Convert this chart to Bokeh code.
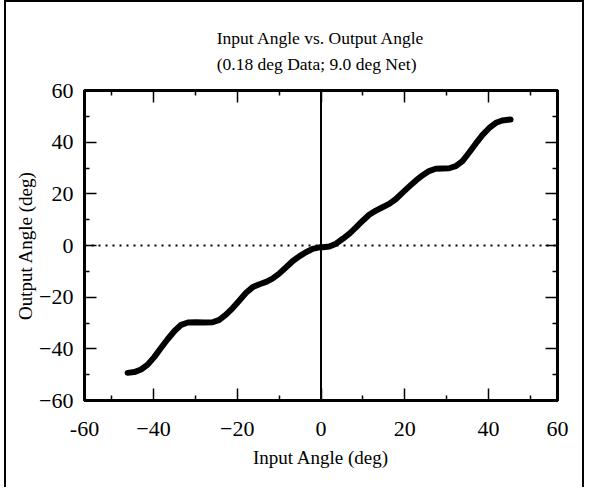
from bokeh.plotting import figure
from bokeh.models import Range1d, FixedTicker, LinearAxis, Span, Title
from bokeh.embed import file_html
from bokeh.resources import INLINE

# Data (input angle, output angle in degrees)
input_angle = [-46.2, -44.6, -43.0, -41.4, -39.8, -38.2, -36.6, -35.0, -33.4, -31.8,
               -29.9, -27.9, -25.9, -24.3, -22.7, -21.1, -19.5, -17.9, -16.3, -14.7,
               -13.1, -11.6, -10.0, -8.4, -6.8, -5.2, -3.6, -2.0, -0.4,
               0.4, 2.0, 3.6, 5.2, 6.8, 8.3, 9.9, 11.5, 13.1, 14.7, 16.3, 17.9,
               19.5, 21.1, 22.7, 24.3, 25.8, 27.4, 29.0, 30.6, 32.2, 33.8, 35.4,
               37.0, 38.6, 40.2, 41.8, 43.3, 45.3]
output_angle = [-49.3, -49.0, -48.0, -46.1, -43.1, -39.6, -36.2, -33.1, -30.7, -29.8,
                -29.7, -29.8, -29.7, -28.8, -26.8, -24.2, -21.3, -18.3, -16.1, -15.0,
                -14.1, -12.8, -10.9, -8.5, -6.1, -4.2, -2.6, -1.3, -0.7,
                -0.7, -0.4, 0.7, 2.6, 4.6, 6.9, 9.5, 11.9, 13.5, 14.8, 16.1, 18.0,
                20.5, 22.9, 25.2, 27.2, 28.8, 29.7, 29.8, 29.9, 30.7, 32.7, 36.0,
                39.5, 42.8, 45.5, 47.5, 48.4, 48.8]

x_ticks = [-56.5, -40, -20, 0, 20, 40, 56.5]
x_tick_labels = {-56.5: "-60", 56.5: "60"}
x_minor = [-50, -30, -10, 10, 30, 50]
y_ticks = [-60, -40, -20, 0, 20, 40, 60]
y_minor = [-50, -30, -10, 10, 30, 50]

title_1 = "Input Angle vs. Output Angle"
title_2 = "(0.18 deg Data; 9.0 deg Net)"
x_label = "Input Angle (deg)"
y_label = "Output Angle (deg)"

FONT = "Liberation Serif"

p = figure(width=584, height=487, x_range=Range1d(-56.5, 56.5), y_range=Range1d(-60, 60),
           output_backend="svg", toolbar_location=None,
           min_border_left=84, min_border_right=27, min_border_top=90, min_border_bottom=87)
p.styles = {"box-shadow": "inset 4px 0 0 0 white, inset 6px 0 0 0 black, "
                          "inset 0 2px 0 0 black, inset -2px 0 0 0 black"}
p.background_fill_color = "white"
p.border_fill_color = None
p.outline_line_color = "black"
p.outline_line_width = 3
p.xgrid.visible = False
p.ygrid.visible = False

xt = FixedTicker(ticks=x_ticks, minor_ticks=x_minor)
yt = FixedTicker(ticks=y_ticks, minor_ticks=y_minor)

def style_axis(ax, ticker, show_labels):
    ax.ticker = ticker
    ax.axis_line_color = "black"
    ax.axis_line_width = 3
    ax.major_tick_in = 12
    ax.major_tick_out = 0
    ax.minor_tick_in = 5
    ax.minor_tick_out = 0
    ax.major_tick_line_width = 1.5
    ax.minor_tick_line_width = 1.5
    ax.major_tick_line_color = "black"
    ax.minor_tick_line_color = "black"
    if show_labels:
        ax.major_label_text_font = FONT
        ax.major_label_text_font_size = "22px"
        ax.major_label_text_color = "black"
        ax.axis_label_text_font = FONT
        ax.axis_label_text_font_size = "19px"
        ax.axis_label_text_font_style = "normal"
        ax.axis_label_text_color = "black"
    else:
        ax.major_label_text_font_size = "1px"
        ax.major_label_text_color = None
        ax.major_label_standoff = 0

xa = p.xaxis[0]
style_axis(xa, xt, True)
xa.major_label_overrides = x_tick_labels
xa.axis_label = x_label
xa.major_label_standoff = 21
xa.axis_label_standoff = 8

ya = p.yaxis[0]
style_axis(ya, yt, True)
ya.axis_label = y_label
ya.major_label_standoff = 11
ya.axis_label_standoff = 0

top = LinearAxis()
style_axis(top, xt, False)
p.add_layout(top, "above")
right = LinearAxis()
style_axis(right, yt, False)
p.add_layout(right, "right")

p.title = Title(text=title_1 + "\n" + title_2, text_font=FONT, text_font_size="17.5px",
                text_font_style="normal", text_color="black", align="center",
                text_line_height=1.3, standoff=34)

p.add_layout(Span(location=0, dimension="height", line_color="black", line_width=2))
p.add_layout(Span(location=0, dimension="width", line_color="black", line_width=2,
                  line_dash="2 5"))

p.line(input_angle, output_angle, line_width=6, line_color="black",
       line_join="round", line_cap="round")

open("out.html", "w").write(file_html(p, INLINE))
